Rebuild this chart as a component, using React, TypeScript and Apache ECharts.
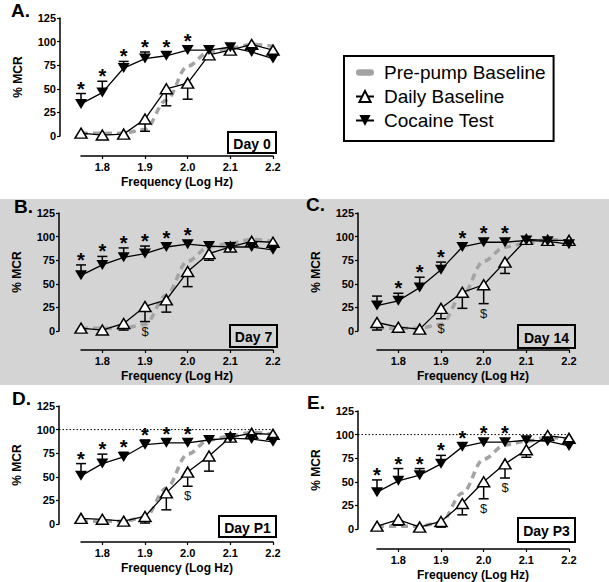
import React, { useEffect, useRef } from "react";
import * as echarts from "echarts";

const FONT = '"Liberation Sans", Arial, Helvetica, sans-serif';

// ---- data ----
const freqs = [1.75, 1.8, 1.85, 1.9, 1.95, 2.0, 2.05, 2.1, 2.15, 2.2];
const xTicks = [1.8, 1.9, 2.0, 2.1, 2.2];
const refLineValue = [100];

const prePump = [3, 3, 3, 7, 38, 74, 89, 93, 97, 95];

const cocaineA = [34, 46, 72, 82, 85, 91, 91, 94, 89, 82];
const cocaineErrA = [45, 58, 79, 89, 89, null, null, null, null, null];
const dailyA = [3, 1, 2, 18, 50, 56, 86, 91, 97, 91];
const dailyErrA = [null, null, null, 5, 32, 39, null, null, null, null];
const starsA = [0, 1, 2, 3, 4, 5];
const dollarsA: number[] = [];

const cocaineB = [59, 70, 78, 82, 89, 92, 90, 89, 89, 86];
const cocaineErrB = [70, 79, 88, 90, null, null, null, null, null, null];
const dailyB = [3, 1, 8, 26, 33, 63, 82, 89, 95, 94];
const dailyErrB = [null, null, 1, 10, 20, 47, 75, null, null, null];
const starsB = [0, 1, 2, 3, 4, 5];
const dollarsB = [3];

const cocaineC = [27, 32, 46, 65, 89, 94, 94, 96, 95, 92];
const cocaineErrC = [37, 40, 57, 73, null, null, null, null, null, null];
const dailyC = [9, 4, 2, 24, 41, 49, 73, 97, 96, 96];
const dailyErrC = [1, null, null, 13, 24, 29, 61, null, null, null];
const starsC = [1, 2, 3, 4, 5, 6];
const dollarsC = [3, 5];

const cocaineD = [51, 64, 71, 84, 86, 86, 89, 91, 90, 87];
const cocaineErrD = [64, 74, 76, 89, null, null, null, null, null, null];
const dailyD = [6, 5, 3, 8, 33, 55, 72, 92, 96, 95];
const dailyErrD = [2, null, null, 1, 15, 40, 56, null, null, null];
const starsD = [0, 1, 2, 3, 4, 5];
const dollarsD = [5];

const cocaineE = [39, 51, 57, 69, 87, 92, 92, 94, 93, 88];
const cocaineErrE = [52, 64, 64, 78, null, null, null, null, null, null];
const dailyE = [3, 10, 2, 8, 27, 50, 69, 84, 99, 96];
const dailyErrE = [null, 4, null, 2, 15, 32, 54, 76, null, null];
const starsE = [0, 1, 2, 3, 4, 5, 6];
const dollarsE = [5, 6];

const panels = [
  { letter: "A.", day: "Day 0", cocaine: cocaineA, cocaineErr: cocaineErrA, daily: dailyA, dailyErr: dailyErrA, stars: starsA, dollars: dollarsA, ref: false },
  { letter: "B.", day: "Day 7", cocaine: cocaineB, cocaineErr: cocaineErrB, daily: dailyB, dailyErr: dailyErrB, stars: starsB, dollars: dollarsB, ref: false },
  { letter: "C.", day: "Day 14", cocaine: cocaineC, cocaineErr: cocaineErrC, daily: dailyC, dailyErr: dailyErrC, stars: starsC, dollars: dollarsC, ref: false },
  { letter: "D.", day: "Day P1", cocaine: cocaineD, cocaineErr: cocaineErrD, daily: dailyD, dailyErr: dailyErrD, stars: starsD, dollars: dollarsD, ref: true },
  { letter: "E.", day: "Day P3", cocaine: cocaineE, cocaineErr: cocaineErrE, daily: dailyE, dailyErr: dailyErrE, stars: starsE, dollars: dollarsE, ref: true },
];

// ---- layout (pixels) ----
const layout = [
  { left: 81, top: 18, xOff: 20, yOff: 21, lx: 11, ly: 11, box: [228, 132, 48, 21] },
  { left: 81, top: 213, xOff: 19, yOff: 22, lx: 14, ly: 207, box: [230, 325, 47, 22] },
  { left: 377, top: 213, xOff: 19, yOff: 19, lx: 306, ly: 205, box: [518, 325, 57, 23] },
  { left: 81, top: 406, xOff: 18, yOff: 22, lx: 12, ly: 399, box: [219, 516, 57, 21] },
  { left: 377, top: 411, xOff: 20, yOff: 19, lx: 307, ly: 403, box: [518, 518, 57, 24] },
];
const GRID_W = 192;
const GRID_H = 118;

function errorSeries(vals: number[], errs: (number | null)[], idx: number) {
  const data = freqs
    .map((f, i) => (errs[i] == null ? null : [f, vals[i], errs[i] as number]))
    .filter((d) => d !== null);
  return {
    type: "custom",
    xAxisIndex: idx,
    yAxisIndex: idx,
    z: 3,
    clip: false,
    silent: true,
    data,
    renderItem: (_p: any, api: any) => {
      const p0 = api.coord([api.value(0), api.value(1)]);
      const p1 = api.coord([api.value(0), api.value(2)]);
      return {
        type: "group",
        children: [
          { type: "line", shape: { x1: p0[0], y1: p0[1], x2: p1[0], y2: p1[1] }, style: { stroke: "#000", lineWidth: 1.5 } },
          { type: "line", shape: { x1: p1[0] - 5, y1: p1[1], x2: p1[0] + 5, y2: p1[1] }, style: { stroke: "#000", lineWidth: 1.5 } },
        ],
      };
    },
  };
}

function buildOption() {
  const grid: any[] = [];
  const xAxis: any[] = [];
  const yAxis: any[] = [];
  const series: any[] = [];
  const graphic: any[] = [
    { type: "rect", z: -100, silent: true, shape: { x: 0, y: 199, width: 609, height: 186 }, style: { fill: "#d4d4d4" } },
  ];
  const axisLine = { show: true, onZero: false, lineStyle: { color: "#000", width: 1.5 } };
  const tickStyle = { color: "#000", width: 1.2 };
  const labelStyle = { color: "#000", fontFamily: FONT, fontWeight: "bold", fontSize: 11 };
  const nameStyle = { color: "#000", fontFamily: FONT, fontWeight: "bold", fontSize: 12 };

  panels.forEach((p, i) => {
    const L = layout[i];
    grid.push({ left: L.left, top: L.top, width: GRID_W, height: GRID_H, outerBoundsMode: "none" });
    xAxis.push({
      type: "value",
      gridIndex: i,
      min: 1.75,
      max: 2.2,
      offset: L.xOff,
      name: "Frequency (Log Hz)",
      nameLocation: "middle",
      nameGap: 20,
      nameTextStyle: nameStyle,
      axisLine,
      axisTick: { show: true, customValues: xTicks, length: 3, lineStyle: tickStyle },
      axisLabel: { customValues: xTicks, formatter: (v: number) => v.toFixed(1), margin: 5, ...labelStyle },
      splitLine: { show: false },
    });
    yAxis.push({
      type: "value",
      gridIndex: i,
      min: 0,
      max: 125,
      interval: 25,
      offset: L.yOff,
      name: "% MCR",
      nameLocation: "middle",
      nameGap: 36,
      nameRotate: 90,
      nameTextStyle: nameStyle,
      axisLine,
      axisTick: { show: true, length: 3, lineStyle: tickStyle },
      axisLabel: { margin: 4, ...labelStyle },
      splitLine: { show: false },
    });

    series.push({
      type: "line",
      name: "Pre-pump Baseline",
      xAxisIndex: i,
      yAxisIndex: i,
      data: freqs.map((f, k) => [f, prePump[k]]),
      smooth: 0.35,
      smoothMonotone: "x",
      symbol: "none",
      clip: false,
      z: 1,
      itemStyle: { color: "#a3a3a3" },
      lineStyle: { color: "#a3a3a3", width: 3.5, type: [7, 5] },
    });
    series.push(errorSeries(p.daily, p.dailyErr, i));
    series.push(errorSeries(p.cocaine, p.cocaineErr, i));
    series.push({
      type: "line",
      name: "Daily Baseline",
      xAxisIndex: i,
      yAxisIndex: i,
      data: freqs.map((f, k) => [f, p.daily[k]]),
      symbol: "triangle",
      symbolSize: [12, 10],
      clip: false,
      z: 4,
      itemStyle: { color: "#fff", borderColor: "#000", borderWidth: 1.5 },
      lineStyle: { color: "#000", width: 1.3 },
    });
    series.push({
      type: "line",
      name: "Cocaine Test",
      xAxisIndex: i,
      yAxisIndex: i,
      data: freqs.map((f, k) => [f, p.cocaine[k]]),
      symbol: "triangle",
      symbolRotate: 180,
      symbolSize: [12, 10],
      clip: false,
      z: 5,
      itemStyle: { color: "#000" },
      lineStyle: { color: "#000", width: 1.3 },
    });
    // kind: 1 = star above an error cap, 2 = star above a marker, -1 = $ below an error cap, -2 = $ below a marker
    const ann: number[][] = [];
    p.stars.forEach((k) =>
      ann.push([freqs[k], p.cocaineErr[k] ?? p.cocaine[k], p.cocaineErr[k] == null ? 2 : 1])
    );
    p.dollars.forEach((k) =>
      ann.push([freqs[k], p.dailyErr[k] ?? p.daily[k], p.dailyErr[k] == null ? -2 : -1])
    );
    series.push({
      type: "custom",
      xAxisIndex: i,
      yAxisIndex: i,
      z: 6,
      clip: false,
      silent: true,
      data: ann,
      renderItem: (_p: any, api: any) => {
        const kind = api.value(2);
        const pt = api.coord([api.value(0), api.value(1)]);
        if (kind > 0) {
          return {
            type: "text",
            x: pt[0],
            y: pt[1] - (kind === 2 ? 9 : 5),
            style: { text: "*", fill: "#000", font: `bold 20px ${FONT}`, align: "center", verticalAlign: "middle" },
          };
        }
        return {
          type: "text",
          x: pt[0],
          y: pt[1] + (kind === -2 ? 7 : 3),
          style: { text: "$", fill: "#111", font: `13px ${FONT}`, align: "center", verticalAlign: "top" },
        };
      },
    });
    if (p.ref) {
      const off = L.yOff;
      series.push({
        type: "custom",
        xAxisIndex: i,
        yAxisIndex: i,
        z: 0,
        clip: false,
        silent: true,
        data: [[freqs[0], refLineValue[0], freqs[freqs.length - 1]]],
        renderItem: (_p: any, api: any) => {
          const a = api.coord([api.value(0), api.value(1)]);
          const b = api.coord([api.value(2), api.value(1)]);
          return {
            type: "line",
            shape: { x1: a[0] - off, y1: a[1], x2: b[0], y2: b[1] },
            style: { stroke: "#000", lineWidth: 1, lineDash: [1.5, 2] },
          };
        },
      });
    }

    graphic.push({
      type: "text",
      left: L.lx,
      top: L.ly - 10,
      style: { text: p.letter, fill: "#000", font: `bold 19px ${FONT}` },
    });
    const [bx, by, bw, bh] = L.box;
    graphic.push({
      type: "group",
      children: [
        { type: "rect", shape: { x: bx, y: by, width: bw, height: bh }, style: { fill: "transparent", stroke: "#000", lineWidth: 2 } },
        {
          type: "text",
          x: bx + bw / 2,
          y: by + bh / 2 + 1,
          style: { text: p.day, fill: "#000", font: `bold 14px ${FONT}`, align: "center", verticalAlign: "middle" },
        },
      ],
    });
  });

  return {
    animation: false,
    backgroundColor: "#fff",
    textStyle: { fontFamily: FONT },
    grid,
    xAxis,
    yAxis,
    series,
    graphic,
    legend: {
      left: 344,
      top: 56,
      orient: "vertical",
      selectedMode: false,
      borderColor: "#000",
      borderWidth: 2,
      borderRadius: 0,
      padding: [7, 8, 11, 11],
      itemGap: 5,
      itemWidth: 18,
      itemHeight: 14,
      textStyle: { fontSize: 19, color: "#000", fontFamily: FONT, padding: [0, 0, 0, 5] },
      data: [
        { name: "Pre-pump Baseline", icon: "path://M2.5,0 L11.5,0 A2.5,2.5 0 0 1 11.5,5 L2.5,5 A2.5,2.5 0 0 1 2.5,0 Z" },
        { name: "Daily Baseline" },
        { name: "Cocaine Test" },
      ],
    },
  };
}

export default function App() {
  const ref = useRef<HTMLDivElement>(null);
  useEffect(() => {
    if (!ref.current) return;
    const chart = echarts.init(ref.current, undefined, { renderer: "svg" });
    chart.setOption(buildOption() as any);
    return () => chart.dispose();
  }, []);
  return (
    <div
      ref={ref}
      style={{ position: "fixed", left: 0, top: 0, width: 609, height: 582 }}
    />
  );
}
